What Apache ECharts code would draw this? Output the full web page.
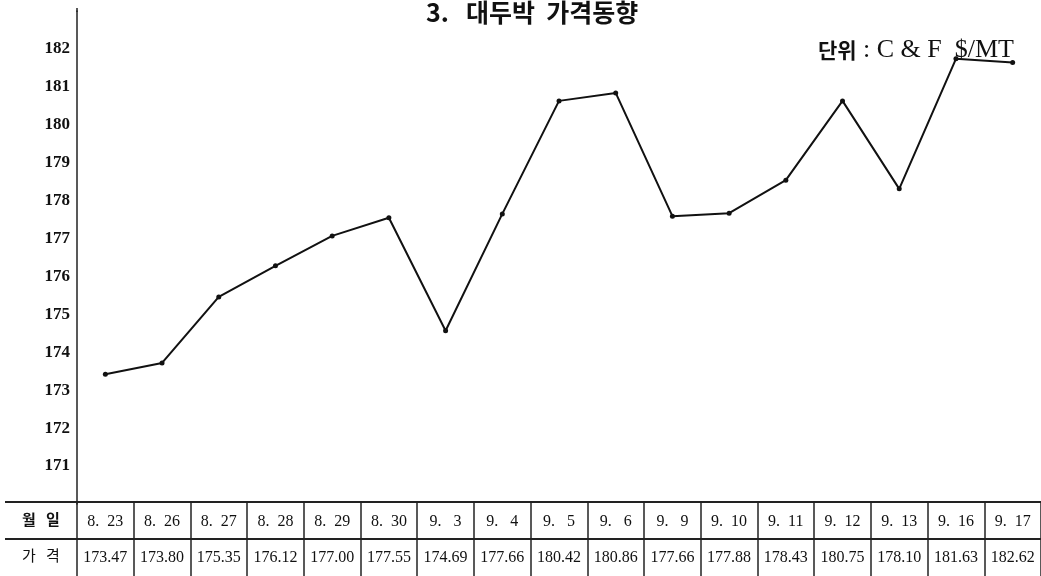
<!DOCTYPE html>
<html>
<head>
<meta charset="utf-8">
<script src="https://cdn.jsdelivr.net/npm/echarts@6/dist/echarts.min.js"></script>
<style>
html,body{margin:0;padding:0;background:#fff;}
#c{width:1041px;height:576px;}
</style>
</head>
<body>
<div id="c"></div>
<script>
// ---- data ----
var dates = ['8.  23','8.  26','8.  27','8.  28','8.  29','8.  30','9.   3','9.   4','9.   5','9.   6','9.   9','9.  10','9.  11','9.  12','9.  13','9.  16','9.  17'];
var priceLabels = ['173.47','173.80','175.35','176.12','177.00','177.55','174.69','177.66','180.42','180.86','177.66','177.88','178.43','180.75','178.10','181.63','182.62'];
// plotted line values
var lineValues = [173.42,173.72,175.46,176.28,177.07,177.55,174.57,177.65,180.63,180.84,177.59,177.67,178.54,180.63,178.31,181.74,181.64];
var yTicks = [171,172,173,174,175,176,177,178,179,180,181,182];
var titleText = '3.   대두박  가격동향';
var unitText = '단위';
var unitRest = ' : C & F  $/MT';
var rowHead1 = '월   일';
var rowHead2 = '가   격';

var chart = echarts.init(document.getElementById('c'), null, {renderer:'canvas'});
var serif = "'Liberation Serif', 'DejaVu Serif', serif";
var kr = "'Noto Sans CJK KR', sans-serif";

var option = {
  animation: false,
  backgroundColor: '#fff',
  title: [
    {text: titleText, left: 421, top: -5,
     textStyle: {fontFamily: kr, fontSize: 25, fontWeight: 'bold', color: '#111'}},
    {text: '{a|' + unitText + '}{b|' + unitRest + '}', right: 22, top: 32,
     textStyle: {rich: {
       a: {fontFamily: kr, fontSize: 21, fontWeight: 'bold', color: '#111'},
       b: {fontFamily: serif, fontSize: 26, fontWeight: 'normal', color: '#111'}
     }}}
  ],
  grid: [
    {left: 77, right: 0, top: 11, bottom: 72},
    {left: 77, right: 0, top: 502, height: 74}
  ],
  xAxis: [
    {type: 'category', gridIndex: 0, data: dates, boundaryGap: true, show: false},
    {type: 'category', gridIndex: 1, data: dates, boundaryGap: true, position: 'top',
     axisLine: {show: false}, axisTick: {show: false},
     splitLine: {show: true, interval: 0, lineStyle: {color: '#222', width: 1.5}},
     axisLabel: {inside: true, interval: 0, margin: 20, verticalAlign: 'middle',
       fontFamily: serif, fontSize: 16, color: '#111'}},
    {type: 'category', gridIndex: 1, data: priceLabels, boundaryGap: true, position: 'bottom',
     axisLine: {show: false}, axisTick: {show: false}, splitLine: {show: false},
     axisLabel: {inside: true, interval: 0, margin: 18, verticalAlign: 'middle',
       fontFamily: serif, fontSize: 16, color: '#111'}}
  ],
  yAxis: [
    {type: 'value', gridIndex: 0, min: 170, max: 183, interval: 1,
     axisLine: {show: true, lineStyle: {color: '#222', width: 1.5}},
     axisTick: {show: false}, splitLine: {show: false},
     axisLabel: {margin: 7, fontFamily: serif, fontSize: 17, fontWeight: 'bold', color: '#111',
       formatter: function (v) { return yTicks.indexOf(v) >= 0 ? String(v) : ''; }}},
    {type: 'value', gridIndex: 1, show: false}
  ],
  series: [
    {type: 'line', xAxisIndex: 0, yAxisIndex: 0, data: lineValues,
     symbol: 'circle', symbolSize: 5,
     lineStyle: {color: '#111', width: 2},
     itemStyle: {color: '#111'}}
  ],
  graphic: [
    {type: 'line', shape: {x1: 5, y1: 502, x2: 1041, y2: 502}, style: {stroke: '#222', lineWidth: 2}},
    {type: 'line', shape: {x1: 5, y1: 539, x2: 1041, y2: 539}, style: {stroke: '#222', lineWidth: 2}},
    {type: 'line', shape: {x1: 77, y1: 8, x2: 77, y2: 12}, style: {stroke: '#222', lineWidth: 1.5}},
    {type: 'text', left: 22, top: 512, style: {text: rowHead1, font: 'bold 15px ' + kr, fill: '#111'}},
    {type: 'text', left: 22, top: 548, style: {text: rowHead2, font: '15px ' + kr, fill: '#111'}}
  ]
};
chart.setOption(option);
</script>
</body>
</html>
